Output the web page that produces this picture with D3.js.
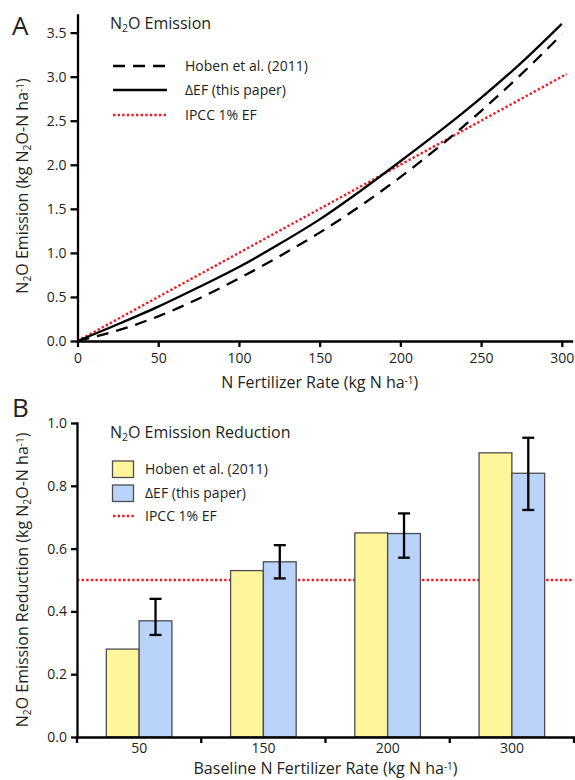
<!DOCTYPE html>
<html>
<head>
<meta charset="utf-8">
<script src="https://cdn.jsdelivr.net/npm/d3@7"></script>
<style>
  body { margin: 0; background: #fff; }
  svg text { font-family: "Open Sans", sans-serif; fill: #231f20; }
</style>
</head>
<body>
<svg id="chart" width="575" height="780"></svg>
<script>
// ---- panel A data: N2O emission vs N fertilizer rate
const rateN = [0, 25, 50, 75, 100, 125, 150, 175, 200, 225, 250, 275, 300];
const hobenEmission = [0, 0.12, 0.28, 0.48, 0.71, 0.96, 1.23, 1.53, 1.86, 2.22, 2.61, 3.03, 3.48];
const deltaEFEmission = [0, 0.19, 0.39, 0.61, 0.84, 1.10, 1.38, 1.70, 2.04, 2.39, 2.76, 3.16, 3.60];
const ipccN = [0, 303];
const ipccEmission = [0, 3.03];
const ticksA_x = [0, 50, 100, 150, 200, 250, 300];
const ticksA_y = [0, 0.5, 1.0, 1.5, 2.0, 2.5, 3.0, 3.5];

// ---- panel B data: emission reduction by baseline rate
const baselineRates = ["50", "150", "200", "300"];
const hobenReduction = [0.28, 0.53, 0.65, 0.905];
const deltaEFReduction = [0.37, 0.558, 0.648, 0.84];
const deltaEFLow = [0.325, 0.505, 0.571, 0.723];
const deltaEFHigh = [0.44, 0.611, 0.712, 0.953];
const ipccReduction = 0.5;
const ticksB_y = [0, 0.2, 0.4, 0.6, 0.8, 1.0];

const RED = "#ee1c25";
const YELLOW = "#fff59a";
const BLUE = "#b9d3fb";
const AXW = 2.3;

const svg = d3.select("#chart");

// text with sub/superscript pieces: [["N"],["2","sub"],["O Emission"]]
function rich(g, parts) {
  parts.forEach(([t, k]) => {
    const s = g.append("tspan").text(t);
    if (k === "sub") s.attr("baseline-shift", "-30%").attr("font-size", "65%");
    if (k === "sup") s.attr("baseline-shift", "45%").attr("font-size", "62%");
  });
  return g;
}

function styleAxis(g) {
  g.select(".domain").attr("stroke", "#000").attr("stroke-width", AXW).attr("stroke-linecap", "square");
  g.selectAll(".tick line").attr("stroke", "#000").attr("stroke-width", AXW);
  g.selectAll(".tick text").attr("font-size", 14).attr("fill", "#231f20")
    .attr("font-family", '"Open Sans", sans-serif');
}

// ================= PANEL A =================
const xA = d3.scaleLinear().domain([0, 306]).range([77.5, 571.5]);
const yA = d3.scaleLinear().domain([0, 3.7]).range([341, 15]);

const gA = svg.append("g");

const lineA = d3.line().x(d => xA(d[0])).y(d => yA(d[1]));

gA.append("path")
  .datum(ipccN.map((n, i) => [n, ipccEmission[i]]))
  .attr("d", lineA).attr("fill", "none")
  .attr("stroke", RED).attr("stroke-width", 2.4).attr("stroke-dasharray", "2.4,2.2");

gA.append("path")
  .datum(rateN.map((n, i) => [n, hobenEmission[i]]))
  .attr("d", lineA.curve(d3.curveMonotoneX)).attr("fill", "none")
  .attr("stroke", "#000").attr("stroke-width", 2.3).attr("stroke-dasharray", "12,8");

gA.append("path")
  .datum(rateN.map((n, i) => [n, deltaEFEmission[i]]))
  .attr("d", lineA.curve(d3.curveMonotoneX)).attr("fill", "none")
  .attr("stroke", "#000").attr("stroke-width", 2.3);

gA.append("g").attr("transform", "translate(0,341)")
  .call(d3.axisBottom(xA).tickValues(ticksA_x).tickSize(6).tickSizeOuter(0).tickPadding(6))
  .call(styleAxis);

gA.append("g").attr("transform", "translate(77.5,0)")
  .call(d3.axisLeft(yA).tickValues(ticksA_y).tickFormat(d3.format(".1f")).tickSize(7).tickSizeOuter(0).tickPadding(4))
  .call(styleAxis);

gA.append("text").attr("x", 12).attr("y", 35).attr("font-size", 26).text("A");

rich(gA.append("text").attr("x", 110).attr("y", 29).attr("font-size", 16),
  [["N"], ["2", "sub"], ["O Emission"]]);

// legend A
const legA = [
  { label: [["Hoben et al. (2011)"]], dash: "12,8", color: "#000", y: 66 },
  { label: [["ΔEF (this paper)"]], dash: null, color: "#000", y: 90 },
  { label: [["IPCC 1% EF"]], dash: "2.4,2.2", color: RED, y: 115 }
];
legA.forEach(l => {
  gA.append("line").attr("x1", 113).attr("x2", 167).attr("y1", l.y).attr("y2", l.y)
    .attr("stroke", l.color).attr("stroke-width", 2.4).attr("stroke-dasharray", l.dash);
  rich(gA.append("text").attr("x", 185).attr("y", l.y + 5).attr("font-size", 14), l.label);
});

rich(gA.append("text").attr("x", xA(150)).attr("y", 388).attr("text-anchor", "middle").attr("font-size", 16),
  [["N Fertilizer Rate (kg N ha"], ["-1", "sup"], [")"]]);

rich(gA.append("text").attr("transform", "translate(27.5,186) rotate(-90)").attr("text-anchor", "middle").attr("font-size", 16),
  [["N"], ["2", "sub"], ["O Emission  (kg N"], ["2", "sub"], ["O-N ha"], ["-1", "sup"], [")"]]);

// ================= PANEL B =================
const xB = d3.scaleBand().domain(baselineRates).range([77, 574]);
const xSub = d3.scaleBand().domain(["hoben", "ef"]).range([xB.bandwidth() * 0.236, xB.bandwidth() * 0.764]);
const yB = d3.scaleLinear().domain([0, 1]).range([737, 423]);

const gB = svg.append("g");

gB.append("line").attr("x1", xB.range()[0]).attr("x2", xB.range()[1])
  .attr("y1", yB(ipccReduction)).attr("y2", yB(ipccReduction))
  .attr("stroke", RED).attr("stroke-width", 2.4).attr("stroke-dasharray", "2.4,2.2");

const groups = gB.selectAll("g.grp").data(baselineRates).join("g")
  .attr("class", "grp").attr("transform", d => `translate(${xB(d)},0)`);

groups.append("rect")
  .attr("x", xSub("hoben")).attr("width", xSub.bandwidth())
  .attr("y", (d, i) => yB(hobenReduction[i])).attr("height", (d, i) => yB(0) - yB(hobenReduction[i]))
  .attr("fill", YELLOW).attr("stroke", "#4d4d4d").attr("stroke-width", 1.3);

groups.append("rect")
  .attr("x", xSub("ef")).attr("width", xSub.bandwidth())
  .attr("y", (d, i) => yB(deltaEFReduction[i])).attr("height", (d, i) => yB(0) - yB(deltaEFReduction[i]))
  .attr("fill", BLUE).attr("stroke", "#4d4d4d").attr("stroke-width", 1.3);

// error bars on the ΔEF bars
const ex = xSub("ef") + xSub.bandwidth() / 2;
groups.append("line").attr("x1", ex).attr("x2", ex)
  .attr("y1", (d, i) => yB(deltaEFLow[i])).attr("y2", (d, i) => yB(deltaEFHigh[i]))
  .attr("stroke", "#000").attr("stroke-width", 2.3);
[deltaEFLow, deltaEFHigh].forEach(arr => {
  groups.append("line").attr("x1", ex - 6).attr("x2", ex + 6)
    .attr("y1", (d, i) => yB(arr[i])).attr("y2", (d, i) => yB(arr[i]))
    .attr("stroke", "#000").attr("stroke-width", 2.3);
});

// x axis: labels at band centres, ticks at band edges
const axB = gB.append("g").attr("transform", "translate(0,737)")
  .call(d3.axisBottom(xB).tickSize(0).tickSizeOuter(0).tickPadding(6))
  .call(styleAxis);
const edges = baselineRates.map(d => xB(d)).concat([xB.range()[1]]);
axB.selectAll("line.edge").data(edges).join("line").attr("class", "edge")
  .attr("x1", d => d).attr("x2", d => d).attr("y1", 0).attr("y2", 6)
  .attr("stroke", "#000").attr("stroke-width", AXW);

gB.append("g").attr("transform", `translate(${xB.range()[0]},0)`)
  .call(d3.axisLeft(yB).tickValues(ticksB_y).tickFormat(d3.format(".1f")).tickSize(6).tickSizeOuter(0).tickPadding(4))
  .call(styleAxis);

gB.append("text").attr("x", 12).attr("y", 417).attr("font-size", 26).text("B");

rich(gB.append("text").attr("x", 110).attr("y", 438).attr("font-size", 16),
  [["N"], ["2", "sub"], ["O Emission Reduction"]]);

// legend B
[{ c: YELLOW, y: 461, t: "Hoben et al. (2011)" }, { c: BLUE, y: 485, t: "ΔEF (this paper)" }].forEach(l => {
  gB.append("rect").attr("x", 112.5).attr("y", l.y).attr("width", 21).attr("height", 16.5)
    .attr("fill", l.c).attr("stroke", "#4d4d4d").attr("stroke-width", 1.3);
  gB.append("text").attr("x", 145).attr("y", l.y + 13).attr("font-size", 14).text(l.t);
});
gB.append("line").attr("x1", 113).attr("x2", 135).attr("y1", 516).attr("y2", 516)
  .attr("stroke", RED).attr("stroke-width", 2.4).attr("stroke-dasharray", "2.4,2.2");
gB.append("text").attr("x", 145).attr("y", 521).attr("font-size", 14).text("IPCC 1% EF");

rich(gB.append("text").attr("x", (xB.range()[0] + xB.range()[1]) / 2).attr("y", 774).attr("text-anchor", "middle").attr("font-size", 16),
  [["Baseline N Fertilizer Rate (kg N ha"], ["-1", "sup"], [")"]]);

rich(gB.append("text").attr("transform", "translate(28,580) rotate(-90)").attr("text-anchor", "middle").attr("font-size", 16),
  [["N"], ["2", "sub"], ["O Emission Reduction (kg N"], ["2", "sub"], ["O-N ha"], ["-1", "sup"], [")"]]);
</script>
</body>
</html>
